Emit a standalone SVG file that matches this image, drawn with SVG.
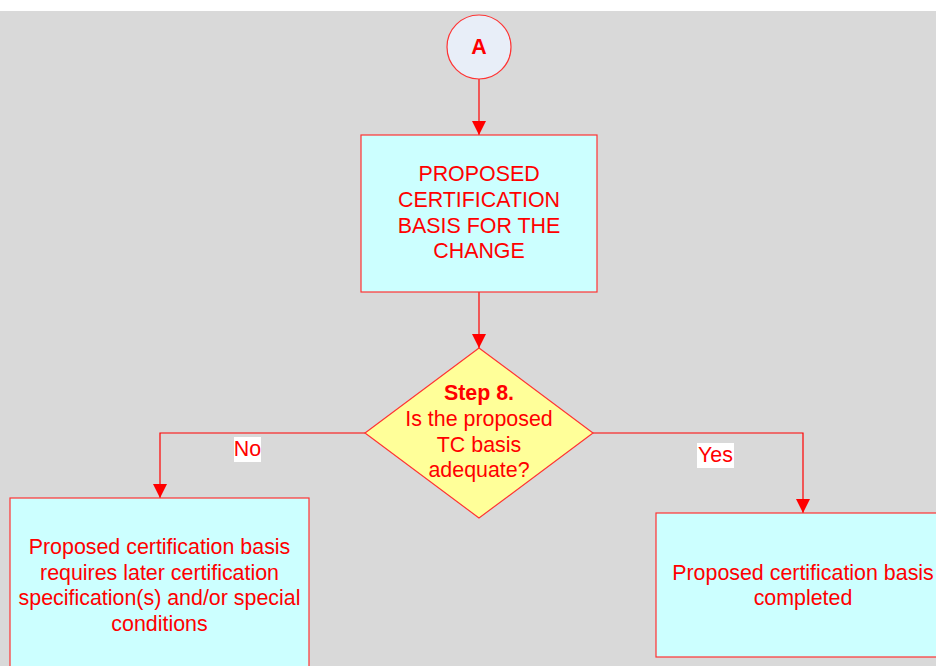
<svg xmlns="http://www.w3.org/2000/svg" width="936" height="666" viewBox="0 0 936 666">
<style>
.t{font-family:"Liberation Sans",Arial,sans-serif;font-size:21.4px;fill:#ff0000;text-anchor:middle}
.b{font-weight:bold}
.ln{fill:none;stroke:#ff0000;stroke-width:1.2}
.box{fill:#ccffff;stroke:#ff3333;stroke-width:1.2}
</style>
<defs>
<marker id="ah" markerWidth="14" markerHeight="14" refX="14" refY="7" orient="auto" markerUnits="userSpaceOnUse">
<path d="M0,0 L14,7 L0,14 Z" fill="#ff0000"/>
</marker>
</defs>
<rect x="0" y="0" width="936" height="666" fill="#ffffff"/>
<rect x="0" y="11" width="936" height="655" fill="#d9d9d9"/>
<g id="connectors">
<line class="ln" x1="479" y1="79" x2="479" y2="135" marker-end="url(#ah)"/>
<line class="ln" x1="479" y1="292" x2="479" y2="348" marker-end="url(#ah)"/>
<polyline class="ln" points="365,433 160,433 160,498" marker-end="url(#ah)"/>
<polyline class="ln" points="593,433 803,433 803,513" marker-end="url(#ah)"/>
<rect x="234" y="437" width="27" height="25" fill="#ffffff"/>
<text class="t" x="247.5" y="456">No</text>
<rect x="697" y="443" width="37" height="25" fill="#ffffff"/>
<text class="t" x="715.5" y="462">Yes</text>
</g>
<g id="nodeA">
<circle cx="479" cy="47" r="32" fill="#e8eef8" stroke="#ff3333" stroke-width="1.2"/>
<text class="t b" x="479" y="54">A</text>
</g>
<g id="proposed">
<rect class="box" x="361" y="135" width="236" height="157"/>
<text class="t" x="479" y="181">PROPOSED</text>
<text class="t" x="479" y="207">CERTIFICATION</text>
<text class="t" x="479" y="233">BASIS FOR THE</text>
<text class="t" x="479" y="258">CHANGE</text>
</g>
<g id="step8">
<polygon points="479,348 593,433 479,518 365,433" fill="#ffff99" stroke="#ff3333" stroke-width="1.2"/>
<text class="t b" x="479" y="400">Step 8.</text>
<text class="t" x="479" y="426">Is the proposed</text>
<text class="t" x="479" y="452">TC basis</text>
<text class="t" x="479" y="477">adequate?</text>
</g>
<g id="noBox">
<rect class="box" x="10" y="498" width="299" height="180"/>
<text class="t" x="159.5" y="554">Proposed certification basis</text>
<text class="t" x="159.5" y="580">requires later certification</text>
<text class="t" x="159.5" y="605">specification(s) and/or special</text>
<text class="t" x="159.5" y="631">conditions</text>
</g>
<g id="yesBox">
<rect class="box" x="656" y="513" width="294" height="144"/>
<text class="t" x="803" y="580">Proposed certification basis</text>
<text class="t" x="803" y="605">completed</text>
</g>
</svg>
